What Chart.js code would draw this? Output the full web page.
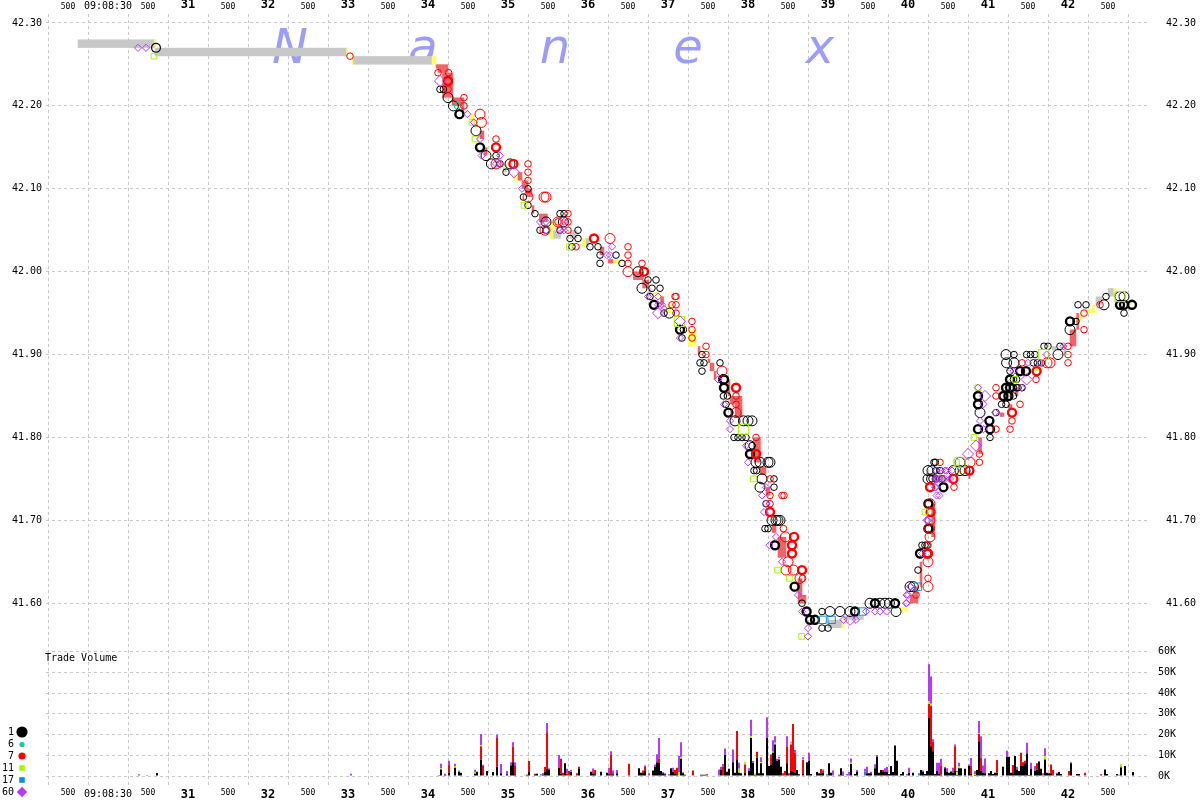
<!DOCTYPE html>
<html><head><meta charset="utf-8">
<style>html,body{margin:0;padding:0;background:#fff}#w{width:1200px;height:800px}</style>
<script src="https://cdn.jsdelivr.net/npm/chart.js@4/dist/chart.umd.min.js"></script>
</head><body><div id="w"><canvas id="c" width="1200" height="800"></canvas></div>
<script>
// Time unit: one "tick" = 25 ms after 09:08:30.
const timeTicks=[-20,0,20,40,60,80,100,120,140,160,180,200,220,240,260,280,300,320,340,360,380,400,420,440,460,480,500];
const priceTicks=[41.6,41.7,41.8,41.9,42.0,42.1,42.2,42.3];
const volumeTicks=[0,10,20,30,40,50,60];
const legendNames=['1','6','7','11','17','60'];
const watermark=['N','a','n','e','x'];
const watermarkTimes=[91,157.5,223.5,290,356];

// NBBO band pieces: [tick from, tick to, low, high]
const bandGray=[[-15,23.5,42.27,42.28],[23.5,119.5,42.26,42.27],[122.5,162.5,42.25,42.26],[197.7,199,42.12,42.13],[222.3,226,42.04,42.05],[231,234.3,42.04,42.05],[238.5,240.2,42.03,42.04],[270,271.5,41.97,41.98],[291,292,41.91,41.92],[360,367,41.57,41.58],[367.7,377.7,41.58,41.585],[472,474,41.905,41.91],[478,479,41.90,41.91],[494,496.7,41.96,41.97],[500,503,41.97,41.98],[509.7,511,41.96,41.965]];
const bandYellow=[[23.3,23.8,42.27,42.28],[119.3,119.8,42.26,42.27],[122,122.5,42.25,42.26],[162,164,42.25,42.26],[181,183,42.18,42.19],[202.7,205.3,42.11,42.115],[197.7,198.5,42.125,42.13],[221,222.3,42.04,42.06],[223.5,225,42.05,42.06],[236.8,238.5,42.03,42.04],[252.3,256,42.01,42.015],[272.7,275.2,41.97,41.975],[279.3,281,41.95,41.96],[290,294,41.91,41.93],[367,367.7,41.57,41.58],[396,400,41.59,41.595],[414,417.7,41.75,41.755],[425,427,41.755,41.76],[462,466,41.88,41.885],[486,487,41.94,41.95],[489.3,492.7,41.95,41.955],[492.3,493.3,41.95,41.96],[503,504,41.97,41.98],[511,511.7,41.96,41.965]];
const bandRed=[[164,165,42.245,42.25],[165,170,42.24,42.25],[167.3,172,42.21,42.24],[172,178,42.20,42.21],[177,178,42.19,42.20],[186,188,42.16,42.17],[188,189.5,42.14,42.15],[205,206.7,42.11,42.12],[207,209.7,42.10,42.11],[209,212,42.09,42.10],[212,213,42.07,42.08],[215.7,219.3,42.06,42.07],[246,248,42.02,42.03],[250,252.3,42.01,42.015],[262.7,267.3,41.99,42.00],[267.3,270,41.98,41.99],[276.3,277.7,41.96,41.97],[295,296,41.90,41.91],[300,301,41.89,41.895],[301,303,41.88,41.89],[303,304,41.87,41.88],[310,311,41.85,41.87],[311,317,41.84,41.85],[313.5,317,41.825,41.84],[322.7,326,41.78,41.80],[323,326,41.77,41.78],[326,329,41.755,41.765],[329,331,41.73,41.74],[332,334,41.685,41.695],[335,339,41.655,41.68],[345,347,41.60,41.63],[346,349,41.60,41.61],[401,405,41.60,41.61],[403,405,41.61,41.62],[406,407,41.62,41.65],[411.8,413.2,41.68,41.72],[430.5,431,41.75,41.76],[435.3,436.8,41.78,41.80],[446,447.7,41.825,41.83],[450,451.8,41.835,41.84],[453.5,454.7,41.85,41.86],[481,483.8,41.91,41.93],[484.3,485.3,41.93,41.95]];

// Trades: [tick, price]
const blackSmall=[[166,42.22],[167.7,42.22],[194,42.14],[196,42.13],[199,42.12],[210,42.10],[207.7,42.09],[210,42.08],[213.5,42.07],[226,42.07],[228,42.07],[216,42.05],[219,42.05],[226,42.05],[235,42.05],[231,42.04],[235,42.04],[232,42.03],[241,42.03],[245,42.03],[246,42.02],[254,42.02],[246,42.01],[257,42.01],[270,41.99],[274,41.99],[272,41.98],[276,41.98],[271,41.97],[278,41.95],[287.7,41.93],[287,41.92],[297,41.90],[297,41.88],[306,41.89],[296,41.89],[298,41.89],[307.7,41.85],[309.7,41.85],[309,41.84],[313,41.80],[315,41.80],[317,41.80],[319,41.80],[322,41.79],[323,41.76],[324.3,41.76],[333,41.75],[333,41.74],[328.5,41.69],[330,41.69],[329,41.72],[357,41.59],[357,41.57],[360,41.57],[405,41.64],[407,41.67],[408.5,41.67],[409.5,41.67],[347,41.60],[441,41.80],[444,41.83],[413,41.77],[413.7,41.77],[414,41.76],[416,41.76],[412,41.75],[414,41.75],[417,41.75],[462.7,41.89],[464.7,41.89],[466.7,41.89],[452.7,41.87],[454.3,41.87],[452.7,41.86],[455,41.86],[457,41.86],[446.8,41.84],[449,41.84],[468,41.91],[470,41.91],[476,41.91],[485,41.96],[489,41.96],[499,41.97],[484,41.94],[508,41.95],[453,41.90],[459.3,41.90],[461.3,41.90],[463.5,41.90],[451,41.88],[454.3,41.86],[452.7,41.85]];
const blackLarge=[[170,42.21],[172.7,42.20],[184,42.17],[189,42.14],[191.7,42.13],[201,42.13],[227.7,42.06],[219,42.06],[280.7,41.95],[267,41.98],[265,42.00],[307.7,41.87],[313.5,41.82],[317.7,41.82],[320,41.82],[322,41.82],[321,41.79],[324,41.77],[326,41.77],[330,41.77],[331,41.77],[327,41.75],[326,41.74],[332,41.70],[334,41.70],[335,41.70],[336,41.70],[361,41.59],[366,41.59],[371,41.59],[381,41.60],[386,41.60],[388.5,41.60],[390.7,41.60],[394,41.59],[401,41.62],[402.7,41.62],[410,41.76],[410,41.75],[412,41.76],[411.8,41.75],[449,41.90],[449.3,41.89],[453,41.89],[436,41.83],[475,41.90],[481,41.93],[498,41.96],[426,41.77],[422.7,41.76],[426,41.76],[428.5,41.76],[506,41.97],[508,41.97]];
const blackThick=[[175.7,42.19],[186,42.15],[273,41.96],[286,41.93],[308,41.87],[308,41.86],[333.5,41.67],[349.3,41.59],[321,41.78],[310.2,41.83],[343.3,41.62],[351,41.58],[353.5,41.58],[373.5,41.59],[383.5,41.60],[393.5,41.60],[417.7,41.74],[481,41.94],[508,41.96],[512,41.96],[506,41.96],[435,41.85],[435,41.84],[435,41.81],[440.7,41.82],[441,41.81],[449,41.86],[451,41.86],[447.7,41.85],[450.2,41.85],[451,41.87],[456,41.88],[459,41.88],[410.2,41.72],[410.2,41.69],[406,41.66]];
const redSmall=[[121,42.26],[165,42.24],[170.3,42.24],[170,42.22],[178,42.21],[178,42.20],[194,42.16],[210,42.13],[210,42.12],[210,42.11],[230,42.07],[230,42.06],[225,42.06],[230,42.05],[234,42.03],[260,42.03],[260,42.02],[260,42.01],[267,42.01],[283.5,41.97],[284,41.97],[282,41.96],[284,41.96],[284,41.95],[292,41.94],[292,41.93],[292,41.92],[299,41.91],[299,41.90],[314,41.85],[314,41.84],[324,41.80],[331,41.75],[331,41.73],[337,41.73],[338,41.73],[331,41.72],[337.7,41.69],[347.3,41.63],[404,41.61],[410,41.63],[416,41.77],[423,41.74],[435.7,41.78],[435.7,41.77],[444,41.86],[444,41.85],[444,41.81],[451,41.81],[452,41.82],[456,41.84],[457,41.89],[464,41.87],[480,41.91],[480,41.90],[480,41.89],[488,41.95],[488,41.93],[496,41.96],[410,41.67]];
const redLarge=[[186,42.19],[186.7,42.18],[251,42.04],[218,42.09],[219,42.09],[210,42.09],[260,42.00],[194,42.13],[218.5,42.05],[225,42.06],[307,41.88],[314,41.83],[338.7,41.68],[340,41.65],[339,41.64],[342.7,41.64],[346,41.63],[410,41.62],[411,41.68],[410.7,41.69],[410,41.65],[411,41.70],[411,41.72],[431,41.77],[471,41.89],[469.5,41.89]];
const redThick=[[170,42.23],[194,42.15],[243,42.04],[202.7,42.13],[268,42.00],[314,41.86],[324,41.78],[331,41.71],[343,41.68],[342,41.67],[342,41.66],[347,41.64],[411,41.74],[409.7,41.66],[422.7,41.75],[452,41.83],[430.7,41.76],[410,41.66],[411.3,41.71],[464.3,41.88]];
const purpleSmall=[[15,42.27],[19,42.27],[179.7,42.19],[183,42.18],[186,42.16],[186.8,42.14],[196,42.14],[194,42.13],[196,42.13],[207,42.10],[216,42.06],[219,42.06],[219,42.05],[226,42.05],[228,42.05],[228,42.06],[252,42.03],[249.5,42.02],[251,42.02],[270,41.97],[275,41.97],[275,41.96],[277,41.96],[278,41.955],[286,41.92],[305,41.87],[308,41.84],[311,41.82],[311,41.81],[319,41.79],[320,41.77],[329,41.74],[327,41.73],[329,41.72],[328,41.71],[334,41.68],[330.7,41.67],[337,41.65],[345,41.61],[350,41.57],[350,41.56],[347,41.59],[367.7,41.58],[374,41.58],[379,41.59],[383.5,41.59],[386,41.59],[389.3,41.59],[399.3,41.60],[400,41.61],[401.3,41.62],[407,41.66],[414.3,41.73],[413.5,41.74],[410,41.70],[414,41.75],[418.5,41.75],[419.3,41.76],[414.3,41.76],[416.8,41.76],[422,41.76],[413.5,41.75],[416,41.75],[421,41.75],[460,41.89],[435,41.86],[437.7,41.84],[436,41.82],[437.7,41.81],[414,41.74],[415.7,41.73],[399.3,41.61],[401,41.62],[399,41.60],[456.8,41.86],[452.7,41.88],[466,41.89],[477.7,41.91],[418.5,41.76],[415,41.75],[417.7,41.75],[443.5,41.83],[469.3,41.90],[409.3,41.70]];
const purpleLarge=[[166,42.23],[203,42.12],[275,41.95],[286,41.94],[371,41.58],[438.5,41.85],[434,41.79],[430,41.78],[459.3,41.87]];
const greenSmall=[[23,42.26],[182,42.18],[183.5,42.16],[208,42.08],[230.7,42.03],[322.7,41.75],[334.8,41.64],[340.7,41.63],[346.8,41.56],[408.5,41.71],[424.3,41.77],[435,41.86],[433,41.80],[453.5,41.87]];
const greenLarge=[[285.7,41.94],[317.8,41.81],[426,41.77],[467.7,41.90],[506,41.97]];
const tealTrades=[[174.7,42.20]];
const blueTrades=[[357.3,41.58],[361.8,41.58],[377.3,41.59],[405,41.62]];
const blackLargeFirst=[[24,42.27]];

// Volume per 25 ms tick, thousands of shares: [tick, volume]
const volBlack=[[24,1.5],[121,.3],[166,3.2],[168,.5],[170,1.6],[173,4],[175,2.1],[176,1.6],[183,1.1],[184,2.1],[186,7.8],[189,2.4],[192,1.9],[194,4.5],[196,1.3],[199,.8],[201,5.1],[202,6.7],[203,.8],[208,.3],[209,.6],[210,1.9],[213,.8],[214,1.1],[217,.6],[218,1.9],[219,3.5],[220,3.2],[225,4],[226,1.1],[228,6.1],[231,2.1],[235,3.5],[241,2.1],[242,1],[243,.8],[245,.3],[246,2.1],[249,1.6],[250,.8],[251,.8],[252,.8],[254,1.3],[257,.3],[265,3.7],[266,1.6],[267,1.3],[268,2.4],[272,2.6],[273,4.3],[274,6.7],[275,6.4],[276,2.4],[277,1.3],[278,.8],[281,3.7],[282,1.9],[283,1.3],[284,.8],[286,8.3],[287,1.3],[288,.6],[296,.6],[297,.6],[298,.6],[306,3.2],[308,10.1],[309,2.1],[310,3.5],[312,6.7],[313,1.6],[314,7.7],[315,1.6],[316,1.3],[318,1.6],[320,2.4],[321,18.4],[322,6.4],[323,.5],[324,8.8],[325,1.3],[326,6.1],[327,1.3],[329,18.4],[330,4.8],[331,5.6],[332,11.2],[333,15.2],[334,7.2],[335,8],[336,4.5],[339,6.1],[341,2.4],[342,1.9],[343,1.6],[344,2.9],[345,.8],[347,1],[349,6.7],[350,7.2],[351,1],[354,1.9],[355,1.3],[356,1.3],[357,1.6],[360,6.1],[361,1.6],[365,.6],[366,3.7],[367,.6],[371,5.8],[373,1],[374,1.9],[379,1.3],[380,1.3],[381,1.3],[383,3.8],[384,9.3],[385,1.6],[386,2.9],[387,1.9],[388,1.9],[389,1.9],[390,1],[391,4.8],[392,1.9],[393,14.7],[394,7.4],[396,1],[397,1.9],[400,1.6],[402,1.6],[406,2.9],[407,1.9],[408,1],[409,2.4],[410,28],[411,14.4],[412,12],[413,1],[414,2.4],[415,1],[416,.6],[418,3.8],[419,1.9],[420,1.6],[421,1.9],[422,1.6],[423,2.4],[424,.5],[425,3.8],[426,3.8],[428,3.5],[430,4.8],[431,1],[433,.5],[434,2.9],[435,16.8],[436,2.4],[437,1.6],[438,1.3],[440,1.3],[441,2.4],[442,1],[443,1.6],[444,1.6],[447,4.5],[449,9.3],[450,9.3],[451,1.6],[452,1.3],[453,9.6],[454,3.2],[455,2.4],[456,4.8],[457,4.8],[458,6.1],[459,10.9],[460,.5],[461,3.5],[463,2.4],[464,2.9],[465,7],[466,3.5],[468,8],[469,1.6],[470,1.3],[471,1.3],[474,1],[475,1.9],[476,1],[481,6.1],[484,1],[485,1],[498,3.2],[499,1],[504,1],[506,4],[508,4.8],[512,1.9]];
const volTeal=[[175,.5]];
const volRed=[[165,.5],[170,4],[186,6.6],[187,4.8],[194,13.8],[202,7.5],[203,4],[210,5.4],[218,2.4],[219,17.6],[226,7.2],[227,1.6],[229,1.1],[230,2.4],[234,1.3],[235,1],[242,.8],[243,2.1],[251,9.3],[260,5.9],[267,1.3],[268,1.9],[275,1.9],[283,1.6],[284,3.2],[292,2.7],[299,.8],[307,4.5],[314,14],[318,4],[324,2.9],[331,4.8],[337,1.3],[338,2.4],[339,8],[340,1.3],[341,12.8],[342,23.2],[343,9.6],[347,6.7],[356,2.1],[357,1],[362,.3],[364,.3],[387,1],[404,.3],[410,6.7],[411,19.5],[412,4.5],[416,4.5],[423,12],[431,4],[435,3.5],[436,6.4],[444,6.1],[452,4],[456,6.4],[457,1.9],[458,1.3],[464,3.2],[471,4.2],[472,2.9],[473,.3],[480,2.4],[488,1.6],[489,.3],[496,.8],[506,.5]];
const volGreen=[[166,.6],[169,.5],[173,.8],[183,.8],[186,.5],[208,.3],[231,.3],[285,1.9],[286,.8],[315,1.9],[318,1.3],[321,.8],[323,.8],[326,.5],[332,.5],[333,.8],[335,.5],[341,.8],[347,.3],[371,.6],[410,1.4],[411,1],[424,1.3],[425,1],[433,.5],[435,.5],[468,1.6],[506,1.3]];
const volBlue=[[357,.5],[359,.8],[378,2.2],[405,1.3]];
const volPurple=[[15,.8],[19,.5],[121,.8],[166,2.1],[168,.6],[170,1.8],[173,1.1],[179,.3],[183,1.1],[186,5.4],[187,.6],[194,1.6],[196,4.5],[199,1.6],[201,1.6],[202,2.1],[203,1.9],[213,.3],[216,.8],[217,.8],[219,4.5],[220,.5],[225,6.1],[229,2.4],[231,.5],[242,1.8],[250,3.2],[251,1.9],[252,1.9],[254,1.6],[268,.8],[270,1.3],[273,1.3],[274,3.8],[275,10],[277,.6],[278,.5],[280,.8],[282,2.1],[285,7.7],[286,7.2],[287,.5],[305,3.2],[306,1.3],[307,1.3],[308,3.2],[312,6.1],[315,2.9],[320,1.3],[321,8],[322,.8],[326,2.4],[329,9.9],[332,5.6],[333,3.2],[334,1.1],[335,.8],[339,5.1],[341,.5],[343,1.3],[347,1],[350,4],[362,2.4],[367,1.6],[369,1],[370,1.9],[371,2.1],[374,1],[376,.3],[377,.3],[378,1.3],[379,3.2],[381,.8],[383,1.9],[384,.8],[388,1.9],[389,2.4],[399,1],[400,2.4],[407,.8],[410,17.8],[411,13.1],[412,1.3],[414,4],[415,5.4],[416,3.2],[418,.5],[419,1.9],[421,.5],[422,2.4],[423,.8],[424,.6],[425,1.6],[430,.8],[431,3.7],[433,1.4],[435,5.8],[436,10.4],[437,3.5],[438,7.2],[449,2.9],[454,1.3],[459,5.1],[461,2.9],[463,2.4],[467,1.3],[468,3.8],[474,.6],[478,.3],[481,.5],[505,.6]];

const FONT='"DejaVu Sans Mono"';
const BLACK='#000000',RED='#ff0000',PURPLE='#b838f8',GREEN='#a8f800',BLUE='#1090d0',TEAL='#18c8a0';
const GRID='#c8c8c8',GRAY='#c8c8c8',YELLOW='#ffff60',SALMON='#f06468';

// Pixel frame of the plot: top 14, bottom 787; price 42.30 at 23, 830 px per dollar; 0K at 777, 2.075 px per K
const yMaxPrice=42.30+9/830, yMinAll=42.30-(787-23)/830, yMinPrice=42.30-(645-23)/830;
const volMin=-10/2.075, volMax=132/2.075;

const pts=a=>a.map(p=>({x:p[0],y:p[1]}));
const trade=(label,data,style,radius,color,width,order)=>({type:'scatter',label,data:pts(data),xAxisID:'x',yAxisID:'y',order,
  pointStyle:style,pointRadius:radius,pointHoverRadius:radius,pointBorderColor:color,pointBackgroundColor:'rgba(0,0,0,0)',pointBorderWidth:width,showLine:false,clip:true});
function bandData(a){const out=[];a.forEach(r=>{for(let k=r[0];k<r[1];k+=0.5)out.push({x:k+0.25,y:[r[2],r[3]]});});return out;}
const band=(label,a,color,order)=>({type:'bar',label,data:bandData(a),xAxisID:'x',yAxisID:'y',backgroundColor:color,barThickness:1.6,grouped:false,inflateAmount:0,order});
const vol=(label,a,color,order)=>({type:'bar',label,data:a.map(p=>({x:p[0]+0.5,y:p[1]})),xAxisID:'x',yAxisID:'yVol',stack:'v',backgroundColor:color,barThickness:2,grouped:false,inflateAmount:0,order});

const setTicks=list=>(s=>{s.ticks=list.map(v=>({value:v}));});
const decor={id:'decor',
 beforeDatasetsDraw(ch){const c=ch.ctx,x=ch.scales.x;c.save();c.fillStyle='#9c9cff';c.font='italic 48px "DejaVu Sans"';c.textAlign='center';c.textBaseline='alphabetic';
  watermark.forEach((t,i)=>c.fillText(t,x.getPixelForValue(watermarkTimes[i]),63));c.restore();},
 afterDraw(ch){const c=ch.ctx;c.save();c.fillStyle='#000';c.font='10px '+FONT;c.textBaseline='middle';c.textAlign='left';c.fillText('Trade Volume',45,658);
  const rows=[[732,5.6,'circle',BLACK],[744.5,2.6,'circle',TEAL],[756,3.6,'circle',RED],[768,2.8,'rect',GREEN],[780,2.8,'rect',BLUE],[792,5.2,'diamond',PURPLE]];
  c.textAlign='right';
  rows.forEach((r,i)=>{c.fillStyle='#000';c.fillText(legendNames[i],14,r[0]);c.fillStyle=r[3];c.beginPath();
   if(r[2]==='circle')c.arc(22,r[0],r[1],0,Math.PI*2);
   else if(r[2]==='rect')c.rect(22-r[1],r[0]-r[1],2*r[1],2*r[1]);
   else{c.moveTo(22-r[1],r[0]);c.lineTo(22,r[0]-r[1]);c.lineTo(22+r[1],r[0]);c.lineTo(22,r[0]+r[1]);c.closePath();}
   c.fill();});c.restore();}
};
const xLabel=v=>v===0?'09:08:30':(v%40===0?String(30+v/40):'500');
const xFont=ctx=>{const v=ctx.tick?ctx.tick.value:20;return v===0?{family:FONT,size:10}:(v%40===0?{family:FONT,size:12,weight:'bold'}:{family:FONT,size:8});};
const xCommon={type:'linear',min:-31,max:521,offset:false,afterBuildTicks:setTicks(timeTicks)};
const xTicks=pad=>({autoSkip:false,maxRotation:0,minRotation:0,color:'#000',font:xFont,callback:xLabel,padding:pad});
const priceLabel=v=>v.toFixed(2);
const dashed={display:false,dash:[3,3]};
const yTicks=(pad,cb)=>({autoSkip:false,color:'#000',font:{family:FONT,size:10},padding:pad,callback:cb});

new Chart(document.getElementById('c'),{type:'scatter',plugins:[decor],
 data:{datasets:[
  trade('60',purpleSmall,'rectRot',3.6,PURPLE,1,1),
  trade('60 large',purpleLarge,'rectRot',5.6,PURPLE,1,1),
  trade('17',blueTrades,'rect',5.2,BLUE,1,2),
  trade('11',greenSmall,'rect',4,GREEN,1,3),
  trade('11 large',greenLarge,'rect',7.2,GREEN,1,3),
  trade('7',redSmall,'circle',3.3,RED,1,4),
  trade('7 large',redLarge,'circle',5,RED,1,4),
  trade('7 heavy',redThick,'circle',4,RED,2.4,4),
  trade('6',tealTrades,'circle',3.3,TEAL,1,5),
  trade('1',blackSmall,'circle',3.3,BLACK,1,6),
  trade('1 large',blackLarge,'circle',5,BLACK,1,6),
  trade('1 first',blackLargeFirst,'circle',4.4,BLACK,1.2,6),
  trade('1 heavy',blackThick,'circle',4,BLACK,2.4,6),
  vol('vol 1',volBlack,BLACK,20),vol('vol 6',volTeal,TEAL,21),vol('vol 7',volRed,RED,22),vol('vol 11',volGreen,GREEN,23),vol('vol 17',volBlue,BLUE,24),vol('vol 60',volPurple,PURPLE,25),
  band('ask/bid red',bandRed,SALMON,30),band('ask/bid yellow',bandYellow,YELLOW,31),band('ask/bid gray',bandGray,GRAY,32)
 ]},
 options:{responsive:false,animation:false,events:[],layout:{padding:0},
  plugins:{legend:{display:false},tooltip:{enabled:false},title:{display:false}},
  scales:{
   x:{...xCommon,position:'bottom',border:dashed,ticks:xTicks(2),grid:{color:GRID,lineWidth:1,drawTicks:false},afterFit:s=>{s.height=13;}},
   x2:{...xCommon,position:'top',border:{display:false},ticks:xTicks(-6),grid:{display:false},afterFit:s=>{s.height=14;}},
   y:{type:'linear',position:'left',min:yMinAll,max:yMaxPrice,stacked:false,border:dashed,grid:{color:GRID,drawTicks:false},
     ticks:yTicks(4,priceLabel),afterBuildTicks:setTicks(priceTicks),afterFit:s=>{s.width=46;}},
   yR:{type:'linear',position:'right',stack:'r',stackWeight:631,weight:1,min:yMinPrice,max:yMaxPrice,border:{display:false},grid:{display:false},
     ticks:yTicks(8,priceLabel),afterBuildTicks:setTicks(priceTicks),afterFit:s=>{s.width=50;}},
   yVol:{type:'linear',position:'right',stack:'r',stackWeight:142,weight:1,min:volMin,max:volMax,stacked:true,border:dashed,grid:{color:GRID,drawTicks:false},
     ticks:yTicks(8,v=>v+'K'),afterBuildTicks:setTicks(volumeTicks),afterFit:s=>{s.width=50;}}
  }
 }
});
</script></body></html>
